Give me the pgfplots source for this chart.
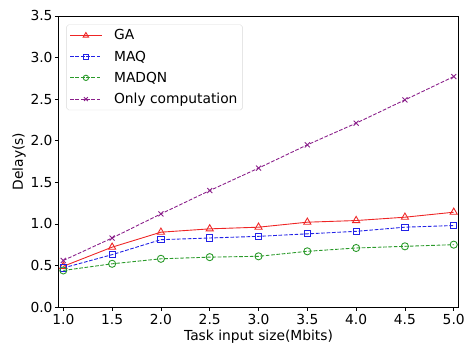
\documentclass[border=0pt]{standalone}
\usepackage{fontspec}
\setmainfont{DejaVu Sans}
\usepackage{pgfplots}
\pgfplotsset{compat=1.18}
\definecolor{cga}{HTML}{EE2525}
\definecolor{cmaq}{HTML}{2222E6}
\definecolor{cmad}{HTML}{2A9A2A}
\definecolor{conly}{HTML}{8A1F8A}
\begin{document}
\begin{tikzpicture}[x=1bp,y=1bp]
\begin{axis}[
  at={(0,0)}, anchor=south west,
  scale only axis, width=404bp, height=294bp,
  xmin=0.95, xmax=5.05, ymin=0, ymax=3.5,
  xtick={1,1.5,...,5}, ytick={0,0.5,...,3.5},
  /pgf/number format/.cd, fixed, fixed zerofill, precision=1, assume math mode=true,
  /pgfplots/.cd,
  tick align=outside, tick pos=left,
  major tick length=3.5bp,
  tick style={black, line width=0.6pt},
  axis line style={line width=0.6pt},
  ticklabel style={font=\fontsize{14}{16}\selectfont},
  xticklabel style={yshift=0bp},
  yticklabel style={xshift=1bp},
  xlabel={Task input size(Mbits)}, ylabel={Delay(s)},
  label style={font=\fontsize{14}{16}\selectfont},
  xlabel style={yshift=1bp},
  ylabel style={yshift=-2bp},
  legend style={font=\fontsize{14}{16}\selectfont, draw=black!15, rounded corners=2bp, at={(0.02,0.97)}, anchor=north west, row sep=5.5bp, inner sep=3bp,
    /tikz/every odd column/.append style={column sep=10bp}},
  legend cell align=left,
  legend image code/.code={\draw[mark repeat=2,mark phase=2, mark options={solid,scale=0.75}] plot coordinates {(0bp,0bp)(16bp,0bp)(32bp,0bp)};},
  every axis plot/.append style={line width=0.9pt},
  mydash/.style={dash pattern=on 3.7bp off 1.7bp},
]
\addplot[cga, mark=triangle, mark size=4.2bp, mark options={solid}] coordinates {(1,0.49)(1.5,0.72)(2,0.90)(2.5,0.94)(3,0.96)(3.5,1.02)(4,1.04)(4.5,1.08)(5,1.14)};
\addlegendentry{GA}
\addplot[cmaq, mydash, mark=square, mark size=3.1bp, mark options={solid}] coordinates {(1,0.47)(1.5,0.63)(2,0.81)(2.5,0.83)(3,0.85)(3.5,0.88)(4,0.91)(4.5,0.96)(5,0.98)};
\addlegendentry{MAQ}
\addplot[cmad, mydash, mark=o, mark size=3.6bp, mark options={solid}] coordinates {(1,0.44)(1.5,0.52)(2,0.58)(2.5,0.60)(3,0.61)(3.5,0.67)(4,0.71)(4.5,0.73)(5,0.75)};
\addlegendentry{MADQN}
\addplot[conly, mydash, mark=x, mark size=3.6bp, mark options={solid}] coordinates {(1,0.56)(1.5,0.83)(2,1.12)(2.5,1.40)(3,1.67)(3.5,1.95)(4,2.21)(4.5,2.49)(5,2.77)};
\addlegendentry{Only computation}
\end{axis}
\path (-59bp,-38bp) rectangle (409bp,310bp);
\end{tikzpicture}
\end{document}
